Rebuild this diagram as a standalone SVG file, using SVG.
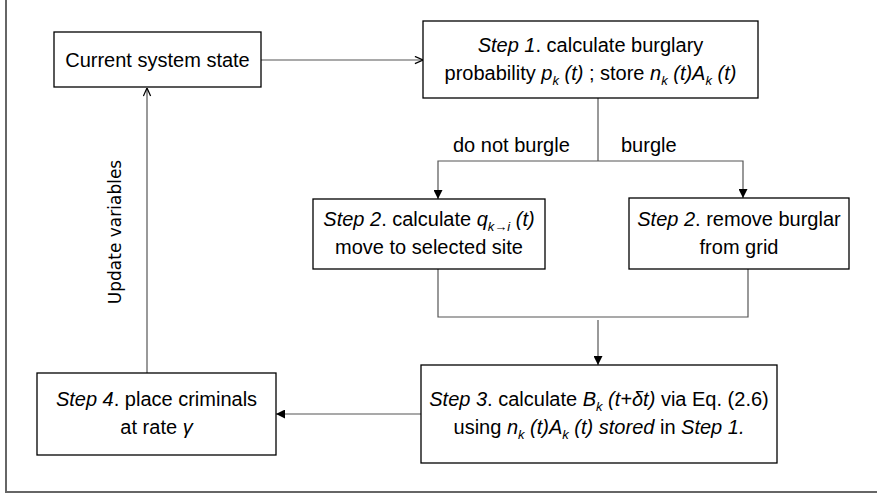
<svg xmlns="http://www.w3.org/2000/svg" width="877" height="495" viewBox="0 0 877 495">
<defs>
<style>
.box{fill:#fff;stroke:#000;stroke-width:1.3}
.con{fill:none;stroke:#555;stroke-width:1.2}
text{font-family:"Liberation Sans",Arial,sans-serif;font-size:20px;fill:#000}
.it{font-style:italic}
.sub{font-size:13px;font-style:italic}
.lab{font-family:"DejaVu Sans",sans-serif;font-size:17px}
</style>
<marker id="tri" viewBox="0 0 10 10" refX="10" refY="5" markerWidth="9" markerHeight="9" markerUnits="userSpaceOnUse" orient="auto">
<path d="M0,0 L10,5 L0,10 Z" fill="#000"/>
</marker>
<marker id="open" viewBox="0 0 10 10" refX="10" refY="5" markerWidth="9" markerHeight="9" markerUnits="userSpaceOnUse" orient="auto">
<path d="M1,1 L10,5 L1,9" fill="none" stroke="#000" stroke-width="1.4"/>
</marker>
</defs>
<rect width="877" height="495" fill="#fff"/>
<g id="frame">
<path d="M6,0 V492 H877" fill="none" stroke="#666" stroke-width="2"/>
</g>
<g id="connectors">
<line class="con" x1="261" y1="60" x2="423" y2="60" marker-end="url(#open)"/>
<polyline class="con" points="598,98 598,161"/>
<polyline class="con" points="598,161 438,161 438,199" marker-end="url(#tri)"/>
<polyline class="con" points="598,161 743,161 743,198" marker-end="url(#tri)"/>
<polyline class="con" points="438,269 438,317 748,317 748,269"/>
<line class="con" x1="598" y1="320" x2="598" y2="365" marker-end="url(#tri)"/>
<line class="con" x1="421" y1="414" x2="276" y2="414" marker-end="url(#tri)"/>
<line class="con" x1="147" y1="373" x2="147" y2="88" marker-end="url(#open)"/>
<text class="lab" transform="translate(121,232) rotate(-90)" text-anchor="middle">Update variables</text>
<text x="453" y="152">do not burgle</text>
<text x="621" y="152">burgle</text>
</g>
<g id="state">
<rect class="box" x="54" y="32" width="207" height="55"/>
<text x="157.5" y="67" text-anchor="middle">Current system state</text>
</g>
<g id="step1">
<rect class="box" x="423" y="21" width="335" height="77"/>
<text x="590.5" y="52" text-anchor="middle"><tspan class="it">Step 1</tspan>. calculate burglary</text>
<text x="590.5" y="80" text-anchor="middle">probability <tspan class="it">p</tspan><tspan class="sub" dy="5">k</tspan><tspan class="it" dy="-5"> (t)</tspan> ; store <tspan class="it">n</tspan><tspan class="sub" dy="5">k</tspan><tspan class="it" dy="-5"> (t)A</tspan><tspan class="sub" dy="5">k</tspan><tspan class="it" dy="-5"> (t)</tspan></text>
</g>
<g id="step2a">
<rect class="box" x="313" y="199" width="232" height="70"/>
<text x="429" y="226" text-anchor="middle"><tspan class="it">Step 2</tspan>. calculate <tspan class="it">q</tspan><tspan class="sub" dy="5">k→i</tspan><tspan class="it" dy="-5"> (t)</tspan></text>
<text x="429" y="254" text-anchor="middle">move to selected site</text>
</g>
<g id="step2b">
<rect class="box" x="629" y="198" width="220" height="71"/>
<text x="739" y="225.5" text-anchor="middle"><tspan class="it">Step 2</tspan>. remove burglar</text>
<text x="739" y="253.5" text-anchor="middle">from grid</text>
</g>
<g id="step3">
<rect class="box" x="421" y="365" width="356" height="98"/>
<text x="599" y="406" text-anchor="middle"><tspan class="it">Step 3</tspan>. calculate <tspan class="it">B</tspan><tspan class="sub" dy="5">k</tspan><tspan class="it" dy="-5"> (t+δt)</tspan> via Eq. (2.6)</text>
<text x="599" y="434" text-anchor="middle">using <tspan class="it">n</tspan><tspan class="sub" dy="5">k</tspan><tspan class="it" dy="-5"> (t)A</tspan><tspan class="sub" dy="5">k</tspan><tspan class="it" dy="-5"> (t) stored</tspan> in <tspan class="it">Step 1.</tspan></text>
</g>
<g id="step4">
<rect class="box" x="37" y="373" width="239" height="82"/>
<text x="156.5" y="406" text-anchor="middle"><tspan class="it">Step 4</tspan>. place criminals</text>
<text x="156.5" y="434" text-anchor="middle">at rate <tspan class="it">γ</tspan></text>
</g>
</svg>
